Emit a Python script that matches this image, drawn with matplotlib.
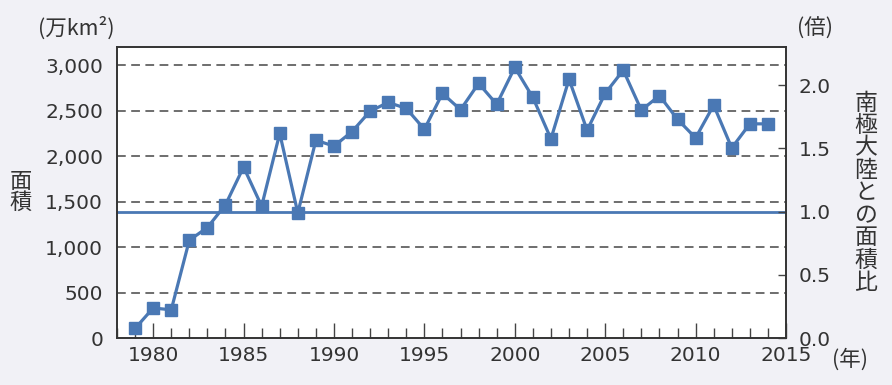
import matplotlib
matplotlib.use('Agg')
import matplotlib.pyplot as plt
from matplotlib.ticker import MultipleLocator, FuncFormatter

plt.rcParams['font.family'] = ['DejaVu Sans', 'Noto Sans CJK JP']

# オゾンホール面積の年最大値 (万km2)
years = list(range(1979, 2015))
area = [105, 330, 310, 1075, 1215, 1465, 1880, 1450, 2250, 1375,
        2175, 2110, 2270, 2495, 2590, 2525, 2295, 2690, 2510, 2800,
        2570, 2975, 2645, 2190, 2845, 2285, 2690, 2945, 2505, 2665,
        2405, 2200, 2560, 2090, 2355, 2355]
antarctica = 1390  # 南極大陸の面積 (万km2)

blue = '#4a78b4'
txt = '#333333'
bg = '#f1f1f6'

fig = plt.figure(figsize=(8.92, 3.85), dpi=100, facecolor=bg)
ax = fig.add_axes([117/892, 1-338/385, (786-117)/892, (338-47)/385])
ax.set_facecolor('white')

ax.set_xlim(1978, 2015)
ax.set_ylim(0, 3200)

for v in range(500, 3001, 500):
	ax.axhline(v, color='#6e6e6e', lw=1.4, ls=(0, (4.5, 2.8)), zorder=1)
ax.axhline(antarctica, color=blue, lw=2, zorder=2)
ax.plot(years, area, color=blue, lw=2.3, marker='s', ms=8, zorder=3)

ax.xaxis.set_major_locator(MultipleLocator(5))
ax.xaxis.set_minor_locator(MultipleLocator(1))
ax.tick_params(axis='x', which='major', direction='in', length=11, width=1, color='#444444',
	labelsize=14.5, labelcolor=txt, pad=6)
ax.tick_params(axis='x', which='minor', direction='in', length=7, width=1, color='#444444')
ax.set_yticks(range(0, 3001, 500))
ax.yaxis.set_major_formatter(FuncFormatter(lambda v, p: f'{int(v):,}'))
ax.tick_params(axis='y', length=0, labelsize=14.5, labelcolor=txt, pad=10)

ax2 = ax.twinx()
ax2.set_ylim(0, 3200/antarctica)
ax2.set_yticks([0, 0.5, 1.0, 1.5, 2.0])
ax2.yaxis.set_major_formatter(FuncFormatter(lambda v, p: f'{v:.1f}'))
ax2.tick_params(axis='y', direction='in', length=6, width=1, color='#444444',
	labelsize=14.5, labelcolor=txt, pad=9)

for a in (ax, ax2):
	for s in a.spines.values():
		s.set_color('#333333')
		s.set_linewidth(1.2)

cjk = ['Noto Sans CJK JP', 'DejaVu Sans']
fig.text(76/892, 1-28/385, '(万km²)', ha='center', va='center', fontsize=15.5, color=txt, family=cjk)
fig.text(815/892, 1-29/385, '(倍)', ha='center', va='center', fontsize=15.5, color=txt, family=cjk)
fig.text(850/892, 1-360/385, '(年)', ha='center', va='center', fontsize=15.5, color=txt, family=cjk)
fig.text(21/892, 1-192/385, '面\n積', ha='center', va='center', fontsize=16, color=txt,
	family=cjk, linespacing=0.9)
fig.text(866/892, 1-193/385, '\n'.join('南極大陸との面積比'), ha='center', va='center', fontsize=16.5,
	color=txt, family=cjk, linespacing=0.97)

fig.savefig('out.png', dpi=100, facecolor=bg)
